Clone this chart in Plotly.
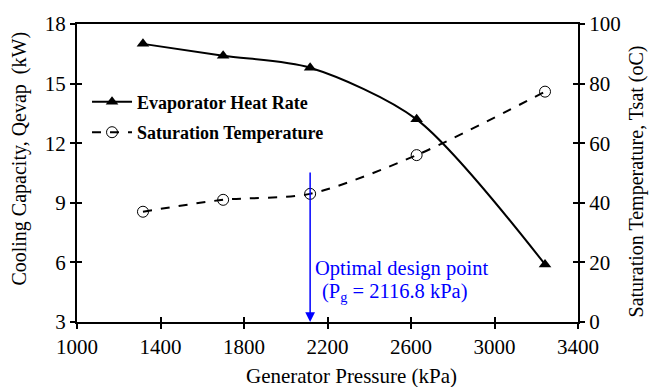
import plotly.graph_objects as go

pressure = [1316, 1700, 2116.8, 2627, 3242]
evap_heat = [17.0, 16.4, 15.8, 13.2, 5.9]
sat_temp = [37.0, 41.0, 43.0, 56.0, 77.3]

x_ticks = [1000, 1400, 1800, 2200, 2600, 3000, 3400]
y1_ticks = [3, 6, 9, 12, 15, 18]
y2_ticks = [0, 20, 40, 60, 80, 100]

design_p = 2116.8
FONT = "Liberation Serif, Times New Roman, serif"
FS = 21

fig = go.Figure()
fig.add_trace(go.Scatter(
    x=pressure, y=evap_heat, name="Evaporator Heat Rate", legendgroup="a",
    mode="lines+markers", line=dict(color="black", width=2, shape="spline", smoothing=0.8),
    marker=dict(symbol="triangle-up", size=11, color="black"),
    xaxis="x", yaxis="y"))
fig.add_trace(go.Scatter(
    x=pressure, y=sat_temp, name="Saturation Temperature", legendgroup="b",
    mode="lines+markers", line=dict(color="black", width=2, dash="dash", shape="spline", smoothing=0.8),
    marker=dict(symbol="circle-open", size=11, color="black", line=dict(width=1)),
    xaxis="x", yaxis="y2"))

axis_common = dict(showgrid=False, zeroline=False, showline=True, linecolor="black",
                   linewidth=2, ticks="outside", ticklen=5, tickwidth=1.5, tickcolor="black",
                   tickfont=dict(family=FONT, size=FS, color="black"))

fig.update_layout(
    width=654, height=387,
    margin=dict(l=77, r=76, t=19, b=65),
    plot_bgcolor="white", paper_bgcolor="white",
    font=dict(family=FONT, color="black"),
    xaxis=dict(range=[1000, 3400], tickvals=x_ticks, mirror=True, **axis_common),
    yaxis=dict(range=[3, 18], tickvals=y1_ticks, **axis_common),
    yaxis2=dict(range=[0, 100], tickvals=y2_ticks, overlaying="y", side="right", **axis_common),
    xaxis3=dict(range=[1000, 3400], tickvals=x_ticks, overlaying="x", anchor="y",
                showgrid=False, zeroline=False, showline=False, showticklabels=False,
                ticks="inside", ticklen=5, tickwidth=1.5, tickcolor="black"),
    yaxis3=dict(range=[3, 18], tickvals=y1_ticks, overlaying="y", anchor="x",
                showgrid=False, zeroline=False, showline=False, showticklabels=False,
                ticks="inside", ticklen=5, tickwidth=1.5, tickcolor="black"),
    yaxis4=dict(range=[0, 100], tickvals=y2_ticks, overlaying="y", side="right", anchor="x",
                showgrid=False, zeroline=False, showline=False, showticklabels=False,
                ticks="inside", ticklen=5, tickwidth=1.5, tickcolor="black"),
    legend=dict(x=0.02, y=0.80, xanchor="left", yanchor="top", bgcolor="rgba(0,0,0,0)",
                font=dict(family=FONT, size=18, color="black", weight="bold"),
                tracegroupgap=4, itemwidth=40),
    showlegend=True,
)

fig.add_trace(go.Scatter(x=[None], y=[None], xaxis="x3", yaxis="y3", showlegend=False, hoverinfo="skip"))
fig.add_trace(go.Scatter(x=[None], y=[None], xaxis="x", yaxis="y4", showlegend=False, hoverinfo="skip"))

# axis titles
fig.add_annotation(text="Generator Pressure (kPa)", xref="paper", yref="paper",
                   x=0.547, y=-0.182, xanchor="center", yanchor="middle",
                   showarrow=False, font=dict(family=FONT, size=FS))
fig.add_annotation(text="Cooling Capacity, Qevap\u00a0 (kW)", xref="paper", yref="paper",
                   x=-0.114, y=0.548, xanchor="center", yanchor="middle", textangle=-90,
                   showarrow=False, font=dict(family=FONT, size=20))
fig.add_annotation(text="Saturation Temperature, Tsat (oC)", xref="paper", yref="paper",
                   x=1.116, y=0.472, xanchor="center", yanchor="middle", textangle=-90,
                   showarrow=False, font=dict(family=FONT, size=20))

fig.add_annotation(x=design_p, y=3, xref="x", yref="y", ax=design_p, ay=10.6,
                   axref="x", ayref="y", showarrow=True, arrowhead=2, arrowsize=1.3,
                   arrowwidth=1.5, arrowcolor="#0000FF", text="")
fig.add_annotation(x=2555, y=5.68, xref="x", yref="y", showarrow=False,
                   text="Optimal design point", font=dict(family=FONT, size=20.5, color="#0000FF"))
fig.add_annotation(x=2522, y=4.49, xref="x", yref="y", showarrow=False,
                   text="(P<sub>g</sub> = 2116.8 kPa)", font=dict(family=FONT, size=20.5, color="#0000FF"))

fig.write_html("out.html")
